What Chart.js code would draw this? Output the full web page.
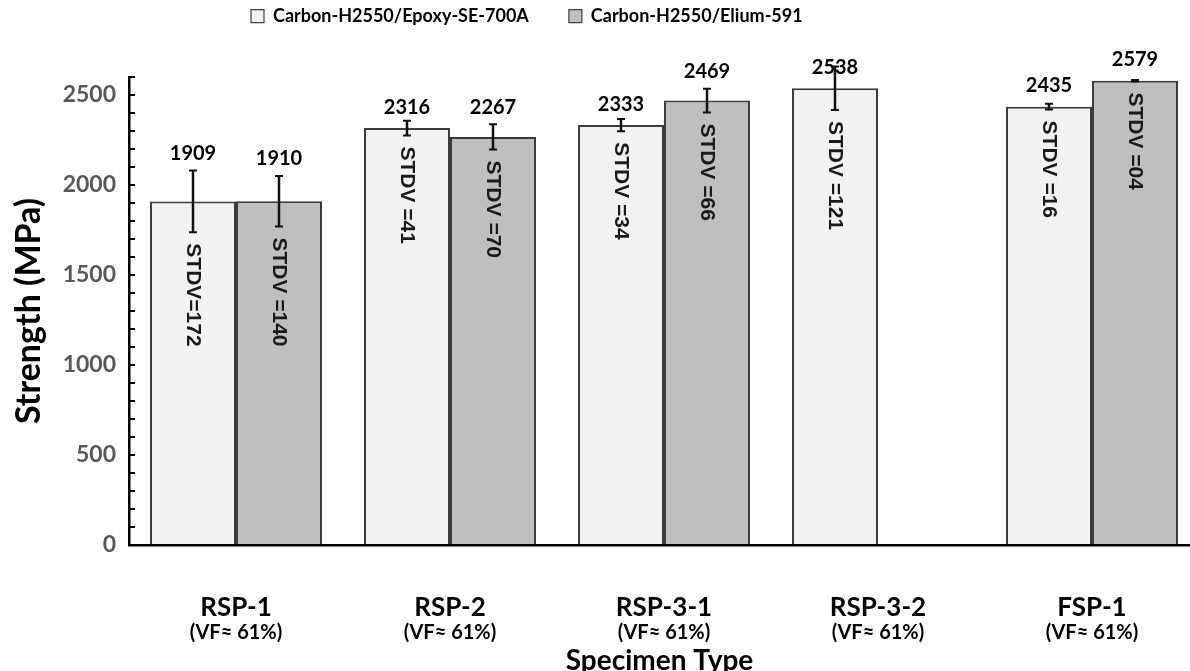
<!DOCTYPE html>
<html>
<head>
<meta charset="utf-8">
<script src="https://cdn.jsdelivr.net/npm/chart.js@4.4.1/dist/chart.umd.min.js"></script>
<style>
  html, body { margin: 0; padding: 0; background: #ffffff; }
  #wrap { width: 1190px; height: 671px; position: relative; }
</style>
</head>
<body>
<div id="wrap"><canvas id="c" width="1190" height="671"></canvas></div>
<script>
// ---- data ----
const categories = ['RSP-1', 'RSP-2', 'RSP-3-1', 'RSP-3-2', 'FSP-1'];
const vfLabels = ['(VF\u2248 61%)', '(VF\u2248 61%)', '(VF\u2248 61%)', '(VF\u2248 61%)', '(VF\u2248 61%)'];
const seriesNames = ['Carbon-H2550/Epoxy-SE-700A', 'Carbon-H2550/Elium-591'];
const epoxyStrength = [1909, 2316, 2333, 2538, 2435];
const eliumStrength = [1910, 2267, 2469, null, 2579];
const epoxyStdv = [172, 41, 34, 121, 16];
const eliumStdv = [140, 70, 66, null, 4];
const epoxyStdvText = ['STDV=172', 'STDV =41', 'STDV =34', 'STDV =121', 'STDV =16'];
const eliumStdvText = ['STDV =140', 'STDV =70', 'STDV =66', null, 'STDV =04'];
const yMax = 2600;
const yStep = 100;
const yLabelStep = 500;

const stdvs = [epoxyStdv, eliumStdv];
const stdvTexts = [epoxyStdvText, eliumStdvText];

const FONT = 'Lato, "Open Sans", sans-serif';
const LEGEND_SIZE = 18;

const annotPlugin = {
  id: 'annot',
  afterLayout(chart) {
    const lg = chart.legend;
    if (lg) {
      const pad = chart.options.plugins.legend.labels.padding;
      const lh = LEGEND_SIZE * 1.2;
      lg.left = 251 - pad;
      lg.top = 18 - pad - lh / 2;
    }
  },
  afterDatasetsDraw(chart) {
    const ctx = chart.ctx;
    const ys = chart.scales.y;
    const xs = chart.scales.x;
    ctx.save();
    chart.data.datasets.forEach((ds, di) => {
      const meta = chart.getDatasetMeta(di);
      meta.data.forEach((bar, i) => {
        const v = ds.data[i].y;
        if (v === null || v === undefined) return;
        const sd = stdvs[di][i];
        const x = bar.x;
        const barTop = ys.getPixelForValue(v);
        const eTop = ys.getPixelForValue(v + sd);
        const eBot = ys.getPixelForValue(v - sd);
        // error bar
        ctx.strokeStyle = '#111';
        ctx.lineWidth = 2.5;
        ctx.beginPath();
        ctx.moveTo(x, eTop); ctx.lineTo(x, eBot);
        ctx.stroke();
        ctx.lineWidth = 2;
        ctx.beginPath();
        ctx.moveTo(x - 4, eTop); ctx.lineTo(x + 4, eTop);
        ctx.moveTo(x - 4, eBot); ctx.lineTo(x + 4, eBot);
        ctx.stroke();
        // value label
        let ly = barTop - 21;
        if (eTop < ly + 10) {
          const alt = eTop - 17;
          if (alt > 55) ly = alt;
        }
        ctx.fillStyle = '#000';
        ctx.font = 'bold 20px ' + FONT;
        ctx.textAlign = 'center';
        ctx.textBaseline = 'middle';
        ctx.fillText(String(v), x, ly);
        // stdv text rotated
        const t = stdvTexts[di][i];
        if (t) {
          ctx.save();
          ctx.translate(x, eBot + 11);
          ctx.rotate(Math.PI / 2);
          ctx.font = 'bold 21px "Liberation Sans", Arial, sans-serif';
          ctx.fillStyle = '#1a1a1a';
          ctx.textAlign = 'left';
          ctx.textBaseline = 'middle';
          ctx.fillText(t, 0, 0);
          ctx.restore();
        }
      });
    });
    // VF sub labels
    ctx.fillStyle = '#000';
    ctx.font = 'bold 20px ' + FONT;
    ctx.textAlign = 'center';
    ctx.textBaseline = 'middle';
    categories.forEach((c, i) => {
      ctx.fillText(vfLabels[i], xs.getPixelForValue(i), xs.top + 88);
    });
    ctx.restore();
  }
};

const catWidthPx = 214;
const plotLeft = 129;
const xMaxVal = -0.5 + (1190 - plotLeft) / catWidthPx;

const chart = new Chart(document.getElementById('c'), {
  type: 'bar',
  data: {
    datasets: [
      {
        label: seriesNames[0],
        data: epoxyStrength.map((v, i) => ({ x: i, y: v })),
        backgroundColor: '#f2f2f2',
        borderColor: '#3c3c3c',
        borderWidth: 2,
        categoryPercentage: 172 / 214,
        barPercentage: 1.0
      },
      {
        label: seriesNames[1],
        data: eliumStrength.map((v, i) => ({ x: i, y: v })),
        backgroundColor: '#bfbfbf',
        borderColor: '#3c3c3c',
        borderWidth: 2,
        categoryPercentage: 172 / 214,
        barPercentage: 1.0
      }
    ]
  },
  options: {
    responsive: false,
    animation: false,
    devicePixelRatio: 1,
    layout: { padding: { top: 30, left: 0, right: 0, bottom: 0 } },
    plugins: {
      tooltip: { enabled: false },
      legend: {
        display: true,
        position: 'top',
        align: 'start',
        maxHeight: 40,
        labels: {
          boxWidth: 13,
          boxHeight: 13,
          padding: 40,
          color: '#000',
          font: { family: FONT, size: LEGEND_SIZE, weight: 'bold', lineHeight: 1.2 },
          generateLabels(chart) {
            return Chart.defaults.plugins.legend.labels.generateLabels(chart).map(l => {
              l.lineWidth = 1.2;
              l.strokeStyle = '#444';
              return l;
            });
          }
        }
      }
    },
    scales: {
      x: {
        type: 'linear',
        min: -0.5,
        max: xMaxVal,
        offset: false,
        afterBuildTicks(scale) {
          scale.ticks = categories.map((c, i) => ({ value: i }));
        },
        afterFit(scale) { scale.height = 126; },
        grid: { display: false, drawTicks: false },
        border: { display: true, color: '#000', width: 2.5 },
        ticks: {
          autoSkip: false,
          maxRotation: 0,
          padding: 47,
          color: '#000',
          font: { family: FONT, size: 26, weight: 'bold' },
          callback(v) { return categories[Math.round(v)]; }
        },
        title: {
          display: true,
          text: 'Specimen Type',
          color: '#000',
          font: { family: FONT, size: 28, weight: 'bold', lineHeight: 0.72 },
          padding: { top: 0, bottom: 0 }
        }
      },
      y: {
        min: 0,
        max: yMax,
        afterFit(scale) { scale.width = plotLeft; },
        grid: {
          display: true,
          drawOnChartArea: false,
          drawTicks: true,
          tickLength: -6,
          color: '#000',
          lineWidth: 2
        },
        border: { display: true, color: '#000', width: 2.5 },
        ticks: {
          stepSize: yStep,
          autoSkip: false,
          maxTicksLimit: 100,
          padding: 19,
          color: '#595959',
          font: { family: FONT, size: 23, weight: 'bold' },
          callback(v) { return v % yLabelStep === 0 ? String(v) : ''; }
        },
        title: {
          display: true,
          text: 'Strength (MPa)',
          color: '#000',
          font: { family: FONT, size: 34, weight: 'bold', lineHeight: 1 },
          padding: { top: 12, bottom: 0 }
        }
      }
    }
  },
  plugins: [annotPlugin]
});

const dTop = 77 - chart.chartArea.top;
if (Math.abs(dTop) > 0.5) {
  chart.options.layout.padding.top += dTop;
  chart.update('none');
}
</script>
</body>
</html>
